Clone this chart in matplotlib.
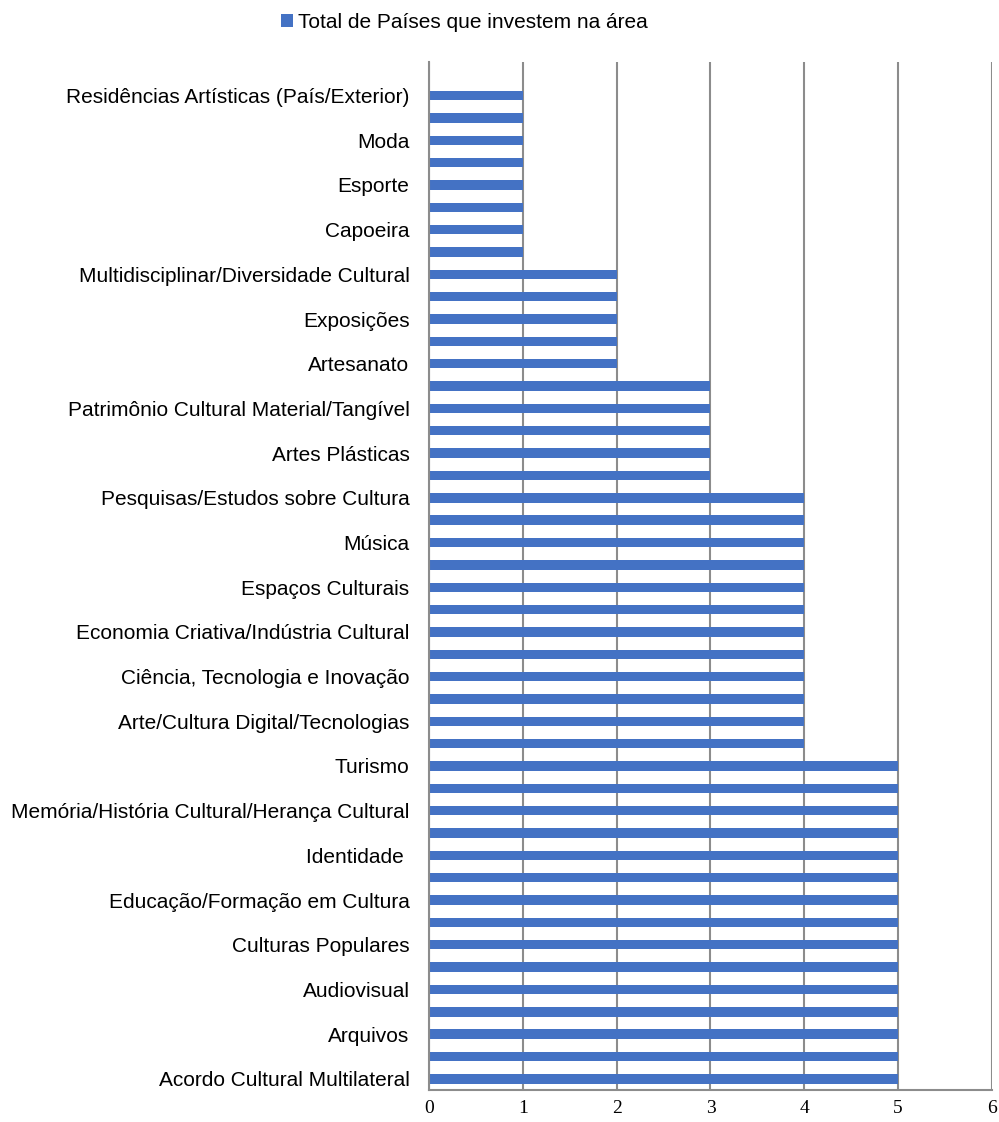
import matplotlib
matplotlib.use("Agg")
import matplotlib.pyplot as plt
import numpy as np

# Categories from bottom to top (Excel order); "" = category whose label is hidden in the reference
categories = [
    "Acordo Cultural Multilateral", "", "Arquivos", "", "Audiovisual", "",
    "Culturas Populares", "", "Educação/Formação em Cultura", "", "Identidade ", "",
    "Memória/História Cultural/Herança Cultural", "", "Turismo",
    "", "Arte/Cultura Digital/Tecnologias", "", "Ciência, Tecnologia e Inovação", "",
    "Economia Criativa/Indústria Cultural", "", "Espaços Culturais", "", "Música", "",
    "Pesquisas/Estudos sobre Cultura",
    "", "Artes Plásticas", "", "Patrimônio Cultural Material/Tangível", "",
    "Artesanato", "", "Exposições", "", "Multidisciplinar/Diversidade Cultural",
    "", "Capoeira", "", "Esporte", "", "Moda", "", "Residências Artísticas (País/Exterior)",
    "",
]
values = [
    5, 5, 5, 5, 5, 5, 5, 5, 5, 5, 5, 5, 5, 5, 5,
    4, 4, 4, 4, 4, 4, 4, 4, 4, 4, 4, 4,
    3, 3, 3, 3, 3,
    2, 2, 2, 2, 2,
    1, 1, 1, 1, 1, 1, 1, 1,
    0,
]
series_name = "Total de Países que investem na área"
x_ticks = [0, 1, 2, 3, 4, 5, 6]

fig = plt.figure(figsize=(9.99, 11.22), dpi=100)
ax = fig.add_axes([0.4294, 0.0285, 0.5636, 0.9162])

pos = np.arange(len(categories))
ax.barh(pos, values, height=0.42, color="#4472C4", label=series_name, zorder=3)

ax.set_xlim(0, 6)
ax.set_ylim(-0.5, len(categories) - 0.5)
ax.set_xticks(x_ticks)
ax.set_xticklabels([str(t) for t in x_ticks], family="Liberation Serif", fontsize=14)
ax.set_yticks(pos)
ax.set_yticklabels(categories, family="Liberation Sans", fontsize=15)
ax.tick_params(axis="y", length=0, pad=14)
ax.tick_params(axis="x", length=0, pad=7)

ax.grid(axis="x", color="#8c8c8c", linewidth=1.5, zorder=0)
for s in ["top", "right"]:
    ax.spines[s].set_visible(False)
ax.spines["left"].set_color("#8c8c8c")
ax.spines["left"].set_linewidth(1.5)
ax.spines["bottom"].set_color("#8c8c8c")
ax.spines["bottom"].set_linewidth(1.5)
ax.spines["left"].set_zorder(4)

leg = fig.legend(loc="center", bbox_to_anchor=(0.465, 0.980), frameon=False,
                 prop={"family": "Liberation Sans", "size": 15},
                 handlelength=0.55, handleheight=0.55, handletextpad=0.25)

fig.savefig("out.png", dpi=100)
